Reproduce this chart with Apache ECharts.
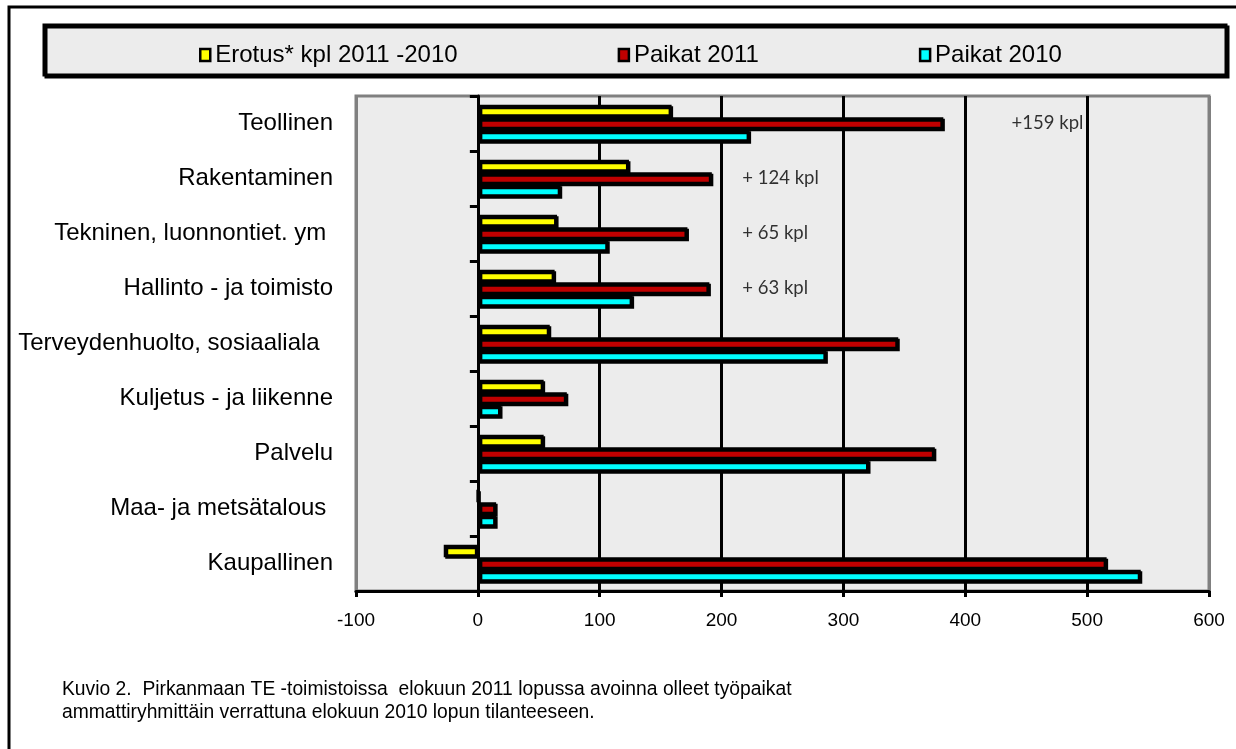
<!DOCTYPE html>
<html>
<head>
<meta charset="utf-8">
<script src="https://cdn.jsdelivr.net/npm/echarts@6/dist/echarts.min.js"></script>
<style>html,body{margin:0;padding:0;background:#fff}#c{width:1236px;height:749px}</style>
</head>
<body>
<div id="c"></div>
<script>
var categories = ['Teollinen','Rakentaminen','Tekninen, luonnontiet. ym ','Hallinto - ja toimisto','Terveydenhuolto, sosiaaliala  ','Kuljetus - ja liikenne','Palvelu','Maa- ja metsätalous ','Kaupallinen'];
var erotus = [159, 124, 65, 63, 59, 54, 54, 0, -28];
var paikat2011 = [382, 192, 172, 190, 345, 73, 375, 15, 516];
var paikat2010 = [223, 68, 107, 127, 286, 19, 321, 15, 544];
var seriesNames = ['Erotus* kpl 2011 -2010', 'Paikat 2011', 'Paikat 2010'];
var noteTexts = ['+159 kpl', '+ 124 kpl', '+ 65 kpl', '+ 63 kpl'];
var noteValues = [438, 217, 217, 217];
var xTicks = {min: -100, max: 600, interval: 100};
var captionLines = ['Kuvio 2.  Pirkanmaan TE -toimistoissa  elokuun 2011 lopussa avoinna olleet työpaikat', 'ammattiryhmittäin verrattuna elokuun 2010 lopun tilanteeseen.'];

var FONT = "'Liberation Sans', Arial, sans-serif";
var colors = ['#FFFF00', '#C00000', '#00FFFF'];
var chart = echarts.init(document.getElementById('c'), null, {renderer: 'canvas'});

function barSeries(name, data, color) {
  return {
    name: name, type: 'bar', data: data, barWidth: 12.5, barGap: '0%',
    itemStyle: {color: color, borderColor: '#000', borderWidth: 3,
      shadowColor: '#000', shadowOffsetX: 1.5, shadowOffsetY: 1.5, shadowBlur: 0},
    emphasis: {disabled: true}, z: 3
  };
}

var option = {
  backgroundColor: '#fff',
  animation: false,
  graphic: [
    {type: 'rect', z: -10, shape: {x: 9, y: 7, width: 1400, height: 900},
      style: {fill: '#fff', stroke: '#000', lineWidth: 3}},
    {type: 'rect', z: -5, shape: {x: 44, y: 25, width: 1182, height: 50},
      style: {fill: '#ececec', stroke: '#000', lineWidth: 3,
        shadowColor: '#000', shadowOffsetX: 2, shadowOffsetY: 2, shadowBlur: 0}},
    {type: 'text', left: 62, top: 678, z: 5,
      style: {text: captionLines.join('\n'), font: "19.3px " + FONT, fill: '#000', lineHeight: 23}}
  ],
  legend: {
    data: seriesNames, left: 194, top: 38, itemGap: 160, itemWidth: 10, itemHeight: 12,
    icon: 'rect',
    itemStyle: {borderColor: '#000', borderWidth: 2.5, shadowBlur: 0, shadowOffsetX: 0, shadowOffsetY: 0},
    textStyle: {fontFamily: FONT, fontSize: 24, color: '#000'},
    selectedMode: false
  },
  grid: {left: 356, right: 27, top: 96, bottom: 158, show: true, containLabel: false,
    outerBoundsMode: 'none',
    backgroundColor: '#ececec', borderColor: '#808080', borderWidth: 3},
  xAxis: {
    type: 'value', min: xTicks.min, max: xTicks.max, interval: xTicks.interval,
    axisLine: {show: true, onZero: false, lineStyle: {color: '#000', width: 3}},
    axisTick: {show: true, length: 6, lineStyle: {color: '#000', width: 3}},
    axisLabel: {fontFamily: FONT, fontSize: 19, color: '#000', margin: 20},
    splitLine: {show: true, lineStyle: {width: 3,
      color: ['#808080', '#000', '#000', '#000', '#000', '#000', '#000', '#808080']}}
  },
  yAxis: {
    type: 'category', inverse: true, data: categories,
    axisLine: {show: true, onZero: true, lineStyle: {color: '#000', width: 3}},
    axisTick: {show: true, length: 8, lineStyle: {color: '#000', width: 3}},
    axisLabel: {fontFamily: FONT, fontSize: 24, color: '#000', margin: 23},
    splitLine: {show: false}
  },
  series: [
    barSeries(seriesNames[0], erotus, colors[0]),
    barSeries(seriesNames[1], paikat2011, colors[1]),
    barSeries(seriesNames[2], paikat2010, colors[2]),
    {
      name: 'notes', type: 'scatter', symbolSize: 0, z: 6,
      data: noteTexts.map(function (t, i) { return {value: [noteValues[i], categories[i]], note: t}; }),
      label: {show: true, position: 'right', distance: 0, color: '#000',
        fontFamily: "Lato, 'Open Sans', sans-serif", fontSize: 18.5,
        formatter: function (p) { return p.data.note; }},
      emphasis: {disabled: true}, silent: true
    }
  ]
};
chart.setOption(option);
</script>
</body>
</html>
